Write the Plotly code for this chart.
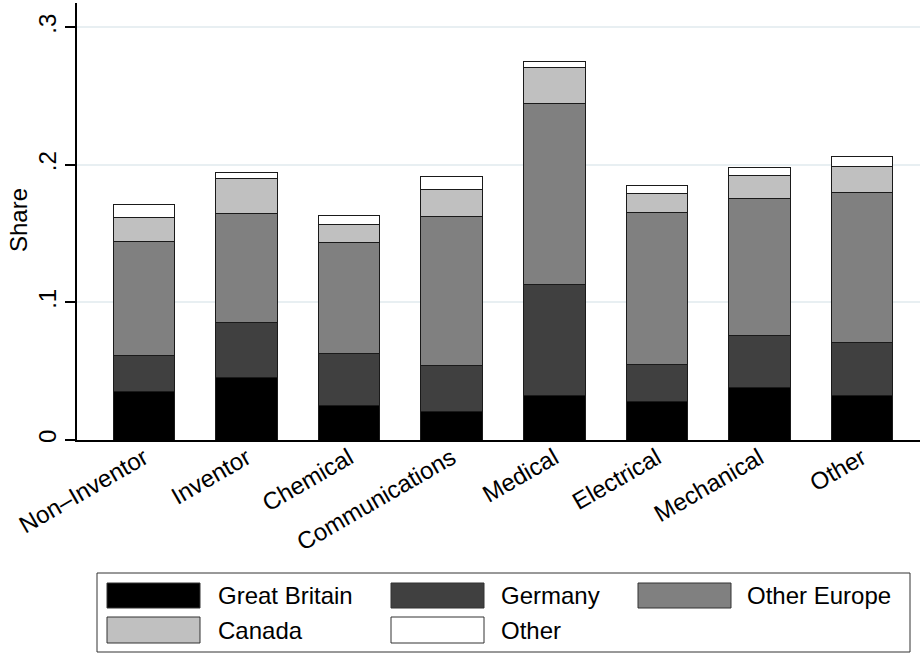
import plotly.graph_objects as go

categories = ["Non\u2013Inventor", "Inventor", "Chemical", "Communications",
              "Medical", "Electrical", "Mechanical", "Other"]
series_names = ["Great Britain", "Germany", "Other Europe", "Canada", "Other"]
great_britain = [0.0349, 0.0453, 0.0254, 0.0208, 0.0320, 0.0283, 0.0378, 0.0327]
germany       = [0.0266, 0.0402, 0.0378, 0.0335, 0.0809, 0.0267, 0.0385, 0.0385]
other_europe  = [0.0829, 0.0790, 0.0807, 0.1080, 0.1318, 0.1100, 0.0991, 0.1085]
canada        = [0.0172, 0.0255, 0.0124, 0.0199, 0.0262, 0.0140, 0.0170, 0.0194]
other         = [0.0097, 0.0043, 0.0067, 0.0094, 0.0041, 0.0061, 0.0060, 0.0073]
y_ticks = [0, 0.1, 0.2, 0.3]
y_tick_labels = ["0", ".1", ".2", ".3"]
y_title = "Share"

series_values = [great_britain, germany, other_europe, canada, other]
colors = ["#000000", "#404040", "#808080", "#c0c0c0", "#ffffff"]

FONT = "Liberation Sans, Arial, sans-serif"
W, H = 920, 653
ML, MR, MT, MB = 77, 0, 3, 213

fig = go.Figure()
for name, vals, col in zip(series_names, series_values, colors):
    fig.add_trace(go.Bar(
        x=categories, y=vals, name=name, width=0.6,
        marker=dict(color=col, line=dict(color="#1a1a1a", width=1)),
        showlegend=False,
    ))

# manual legend (Stata style wide swatches)
pw, ph = W - ML - MR, H - MT - MB
def px(x):
    return (x - ML) / pw
def py(y):
    return (H - MB - y) / ph

shapes = [dict(type="rect", xref="paper", yref="paper",
               x0=px(97), x1=px(910), y0=py(573), y1=py(652),
               line=dict(color="#333333", width=1), fillcolor="rgba(0,0,0,0)")]
annotations = [dict(xref="paper", yref="paper", x=px(19), y=py(220), text=y_title,
                    showarrow=False, textangle=-90, xanchor="center", yanchor="middle",
                    font=dict(family=FONT, size=24, color="#000000"))]
col_x = [(107, 200, 216), (391, 484, 499), (638, 731, 745)]
row_y = [(583, 608), (617, 643)]
for i, (name, col) in enumerate(zip(series_names, colors)):
    r, c = divmod(i, 3)
    sx0, sx1, tx = col_x[c]
    sy0, sy1 = row_y[r]
    shapes.append(dict(type="rect", xref="paper", yref="paper",
                       x0=px(sx0), x1=px(sx1), y0=py(sy1), y1=py(sy0),
                       line=dict(color="#333333", width=1), fillcolor=col))
    annotations.append(dict(xref="paper", yref="paper", x=px(tx), y=py((sy0 + sy1) / 2),
                            text=name, showarrow=False, xanchor="left", yanchor="middle",
                            font=dict(family=FONT, size=24, color="#000000")))

fig.update_layout(
    width=W, height=H,
    margin=dict(l=ML, r=MR, t=MT, b=MB, autoexpand=False),
    barmode="stack",
    plot_bgcolor="white", paper_bgcolor="white",
    font=dict(family=FONT, size=24, color="#000000"),
    shapes=shapes, annotations=annotations,
    xaxis=dict(range=[-0.653, 7.565], showline=True, linecolor="#000000", linewidth=1.5,
               ticks="", tickangle=-30, tickfont=dict(size=24), showgrid=False,
               ticklabelstandoff=-7),
    yaxis=dict(range=[0, 0.3176], showline=True, linecolor="#000000", linewidth=1.5,
               ticks="outside", ticklen=10, tickwidth=1.5, tickcolor="#000000",
               tickvals=y_ticks, ticktext=y_tick_labels, tickangle=-90,
               tickfont=dict(size=24),
               showgrid=True, gridcolor="#e8eff2", gridwidth=1.5, zeroline=False),
)

fig.write_html("out.html", config={"displayModeBar": False},
               post_script="document.body.style.margin='0';document.body.style.overflow='hidden';")
